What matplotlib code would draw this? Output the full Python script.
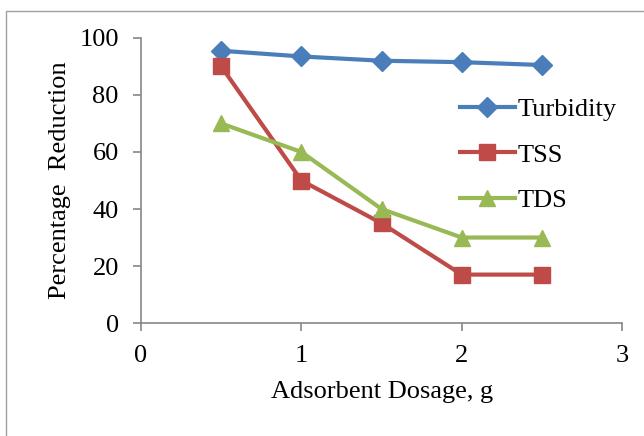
import matplotlib.pyplot as plt
from matplotlib.patches import Rectangle

# Data
dosage = [0.5, 1.0, 1.5, 2.0, 2.5]
turbidity = [95.5, 93.5, 92.0, 91.5, 90.5]
tss = [90, 50, 35, 17, 17]
tds = [70, 60, 40, 30, 30]

plt.rcParams['font.family'] = ['Liberation Serif', 'DejaVu Serif']

fig = plt.figure(figsize=(6.44, 4.36), dpi=100)
ax = fig.add_axes([0.219, 0.259, 0.747, 0.654])

# outer chart frame
fig.patches.append(Rectangle((6 / 644, -0.1), 2, 1.1 - 11 / 436,
                             transform=fig.transFigure, fill=False,
                             edgecolor='#a0a0a0', linewidth=1.0))

ax.plot(dosage, turbidity, color='#4A7EBB', lw=3, marker='D', ms=10,
        label='Turbidity')
ax.plot(dosage, tss, color='#BE4B48', lw=3, marker='s', ms=11,
        label='TSS')
ax.plot(dosage, tds, color='#98B954', lw=3, marker='^', ms=12,
        label='TDS')

ax.set_xlim(0, 3)
ax.set_ylim(0, 100)
ax.set_xticks([0, 1, 2, 3])
ax.set_yticks([0, 20, 40, 60, 80, 100])

for s in ['top', 'right']:
    ax.spines[s].set_visible(False)
for s in ['left', 'bottom']:
    ax.spines[s].set_color('#868686')
    ax.spines[s].set_linewidth(1.2)
ax.tick_params(direction='out', length=6, width=1.2, color='#868686',
               labelsize=19, pad=10)

ax.set_xlabel('Adsorbent Dosage, g', fontsize=19, labelpad=10)
ax.set_ylabel('Percentage  Reduction', fontsize=19, labelpad=6)

ax.legend(loc='upper left', bbox_to_anchor=(0.662, 0.79), frameon=False,
          fontsize=19, handlelength=2.1, handletextpad=0.1,
          labelspacing=0.83, borderaxespad=0, borderpad=0)

plt.savefig('out.png', dpi=100)
